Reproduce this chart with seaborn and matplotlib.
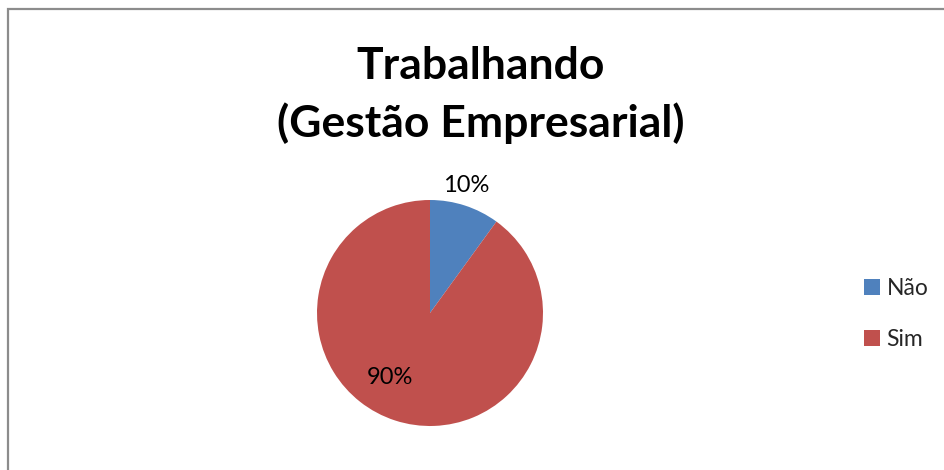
import matplotlib
matplotlib.use("Agg")
import matplotlib.pyplot as plt
from matplotlib.patches import Rectangle, Patch
import seaborn as sns
import numpy as np

# data
categories = ["Não", "Sim"]
shares = [10, 90]
pct_labels = ["10%", "90%"]
title = "Trabalhando\n(Gestão Empresarial)"

colors = ["#4F81BD", "#C0504D"]

sns.set_theme(style="white")
plt.rcParams["font.family"] = ["Lato", "DejaVu Sans"]

fig = plt.figure(figsize=(9.44, 4.70), dpi=100)

# grey frame around the chart area (runs off the right and bottom edges)
fig.patches.append(Rectangle((8 / 944, -0.02), 1.0, 1 - 9 / 470 + 0.02,
                             transform=fig.transFigure, fill=False,
                             edgecolor="#8c8c8c", linewidth=1.6))

fig.text(481 / 944, 1 - 95 / 470, title, ha="center", va="center",
         fontsize=32, fontweight="bold", color="black", linespacing=1.45)

# pie: centre (430, 313) px, radius 113 px
r = 113
ax = fig.add_axes([(430 - r) / 944, 1 - (313 + r) / 470, 2 * r / 944, 2 * r / 470])
wedges, _ = ax.pie(shares, colors=colors, startangle=90, counterclock=False,
                   radius=1.0, wedgeprops=dict(linewidth=0))
ax.set_xlim(-1, 1)
ax.set_ylim(-1, 1)
ax.axis("off")

# label placement: distance from centre and angular nudge per slice
label_dist = [1.17, 0.675]
label_shift = [2, -14]
for w, lab, d, s in zip(wedges, pct_labels, label_dist, label_shift):
    ang = np.deg2rad((w.theta1 + w.theta2) / 2 + s)
    ax.text(d * np.cos(ang), d * np.sin(ang), lab, ha="center", va="center",
            fontsize=17, color="black", clip_on=False)

handles = [Patch(facecolor=c, edgecolor="none") for c in colors]
fig.legend(handles, categories, loc="center left",
           bbox_to_anchor=(843 / 944, 1 - 314 / 470), frameon=False,
           fontsize=16.5, handlelength=0.7, handleheight=0.7,
           handletextpad=0.3, labelspacing=1.3)

fig.savefig("out.png", dpi=100)
